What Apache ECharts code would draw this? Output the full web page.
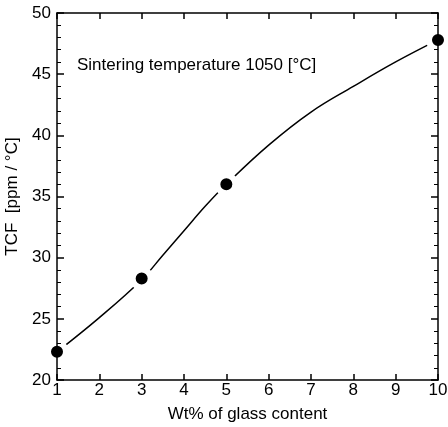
<!DOCTYPE html>
<html><head><meta charset="utf-8">
<script src="https://cdn.jsdelivr.net/npm/echarts@6/dist/echarts.min.js"></script>
<style>html,body{margin:0;padding:0;background:#fff}#c{width:448px;height:427px}</style>
</head><body><div id="c"></div>
<script>
// measured points
var glassWt = [1, 3, 5, 10];
var tcf = [22.3, 28.3, 36.0, 47.8];
// fitted curve
var curveX = [1, 2, 3, 3.5, 4, 4.5, 5, 6, 7, 8, 9, 10];
var curveY = [22.3, 25.1, 28.2, 30.2, 32.2, 34.2, 36.0, 39.2, 41.9, 44.0, 46.0, 47.8];
var xTicks = [1, 2, 3, 4, 5, 6, 7, 8, 9, 10];
var yTicks = [20, 25, 30, 35, 40, 45, 50];

var font = 'Liberation Sans, Arial, sans-serif';
function zip(a, b) { return a.map(function (v, i) { return [v, b[i]]; }); }
var chart = echarts.init(document.getElementById('c'));
var axisLine = { show: true, lineStyle: { color: '#000', width: 1.5 } };
chart.setOption({
  animation: false,
  grid: { left: 57, right: 10, top: 13, bottom: 47, outerBoundsMode: 'none', containLabel: false },
  title: {
    text: 'Sintering temperature 1050 [°C]',
    left: 72, top: 52,
    textStyle: { fontFamily: font, fontSize: 17, fontWeight: 'normal', color: '#000' }
  },
  xAxis: [{
    type: 'value', min: xTicks[0], max: xTicks[xTicks.length - 1], interval: 1, z: 10,
    name: 'Wt% of glass content', nameLocation: 'middle', nameGap: 26,
    nameTextStyle: { fontFamily: font, fontSize: 17, color: '#000' },
    axisLine: axisLine,
    axisTick: { inside: true, length: 6, lineStyle: { color: '#000', width: 1.5 } },
    axisLabel: { fontFamily: font, fontSize: 17, color: '#000', margin: 2 },
    splitLine: { show: false }
  }, {
    type: 'value', position: 'top', min: 1, max: 10, interval: 1, z: 10,
    axisLine: axisLine,
    axisTick: { inside: true, length: 6, lineStyle: { color: '#000', width: 1.5 } },
    axisLabel: { show: false }, splitLine: { show: false }
  }],
  yAxis: [{
    type: 'value', min: yTicks[0], max: yTicks[yTicks.length - 1], interval: 5, z: 10,
    name: 'TCF  [ppm / °C]', nameLocation: 'middle', nameGap: 31, nameRotate: 90,
    nameTextStyle: { fontFamily: font, fontSize: 17, color: '#000' },
    axisLine: axisLine,
    axisTick: { inside: true, length: 7, lineStyle: { color: '#000', width: 1.5 } },
    minorTick: { show: true, splitNumber: 5, length: 4, lineStyle: { color: '#000', width: 1 } },
    axisLabel: { fontFamily: font, fontSize: 17, color: '#000', margin: 6 },
    splitLine: { show: false }
  }, {
    type: 'value', position: 'right', min: 20, max: 50, interval: 5, z: 10,
    axisLine: axisLine,
    axisTick: { inside: true, length: 7, lineStyle: { color: '#000', width: 1.5 } },
    minorTick: { show: true, splitNumber: 5, length: 4, lineStyle: { color: '#000', width: 1 } },
    axisLabel: { show: false }, splitLine: { show: false }
  }],
  series: [{
    type: 'line', data: zip(curveX, curveY), smooth: 0.4, showSymbol: false,
    lineStyle: { color: '#000', width: 1.5 }, z: 2, silent: true
  }, {
    type: 'scatter', data: zip(glassWt, tcf), symbol: 'circle', symbolSize: 18,
    itemStyle: { color: '#000', opacity: 1, borderColor: '#fff', borderWidth: 6 }, z: 3
  }]
});
</script></body></html>
